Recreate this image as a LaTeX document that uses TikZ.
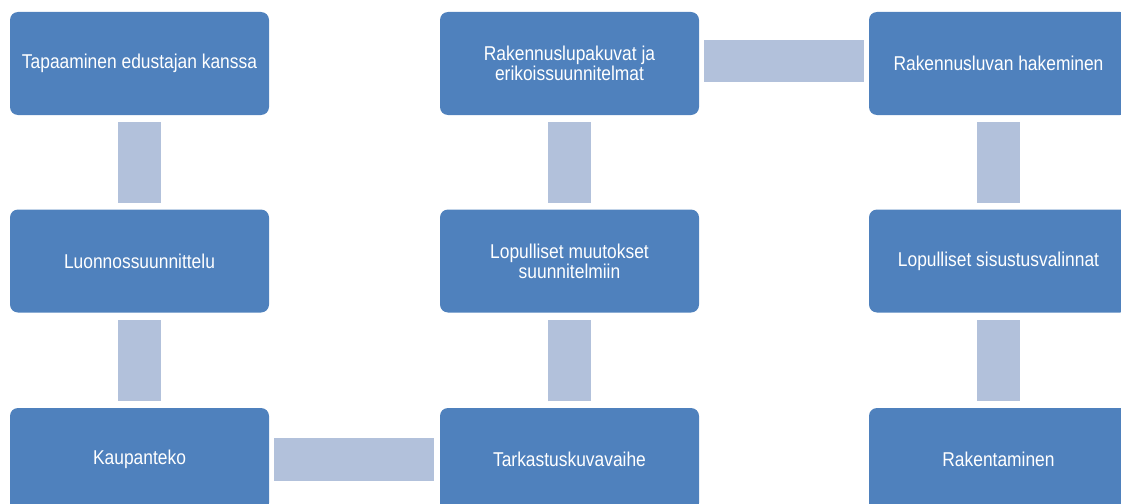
\documentclass[tikz,border=0pt]{standalone}
\usepackage{fontspec}
\setmainfont[FakeStretch=0.87]{Liberation Sans}
\usetikzlibrary{calc}
\definecolor{boxblue}{HTML}{4F81BD}
\definecolor{connblue}{HTML}{B2C1DB}
\tikzset{
  stepbox/.style={rectangle, rounded corners=8pt, fill=boxblue, draw=none,
    minimum width=259pt, minimum height=103pt, inner sep=0pt,
    text=white, align=center, font=\fontsize{20pt}{20pt}\selectfont},
  conn/.style={draw=connblue, line width=42.5pt}
}
\begin{document}
\begin{tikzpicture}[x=1pt,y=-1pt]
\useasboundingbox (0,0) rectangle (1121,503);
\clip (0,0) rectangle (1121,503);
\node[stepbox] (a) at (139.5,63.5) {Tapaaminen edustajan kanssa};
\node[stepbox] (b) at (139.5,261) {Luonnossuunnittelu};
\node[stepbox] (c) at (139.5,459.5) {Kaupanteko};
\node[stepbox] (d) at (569.5,459.5) {Tarkastuskuvavaihe};
\node[stepbox] (e) at (569.5,261) {Lopulliset muutokset\\suunnitelmiin};
\node[stepbox] (f) at (569.5,63.5) {Rakennuslupakuvat ja\\erikoissuunnitelmat};
\node[stepbox] (g) at (998.5,63.5) {Rakennusluvan hakeminen};
\node[stepbox] (h) at (998.5,261) {Lopulliset sisustusvalinnat};
\node[stepbox] (i) at (998.5,459.5) {Rakentaminen};
\draw[conn] ($(a.south)+(0,7)$) -- ($(b.north)+(0,-6.5)$);
\draw[conn] ($(b.south)+(0,7.5)$) -- ($(c.north)+(0,-6.5)$);
\draw[conn] ($(c.east)+(5,0)$) -- ($(d.west)+(-6,0)$);
\draw[conn] ($(d.north)+(0,-6.5)$) -- ($(e.south)+(0,7.5)$);
\draw[conn] ($(e.north)+(0,-6.5)$) -- ($(f.south)+(0,7)$);
\draw[conn] ($(f.east)+(5,-2.3)$) -- ($(g.west)+(-5,-2.3)$);
\draw[conn] ($(g.south)+(0,7)$) -- ($(h.north)+(0,-6.5)$);
\draw[conn] ($(h.south)+(0,7.5)$) -- ($(i.north)+(0,-6.5)$);
\end{tikzpicture}
\end{document}
